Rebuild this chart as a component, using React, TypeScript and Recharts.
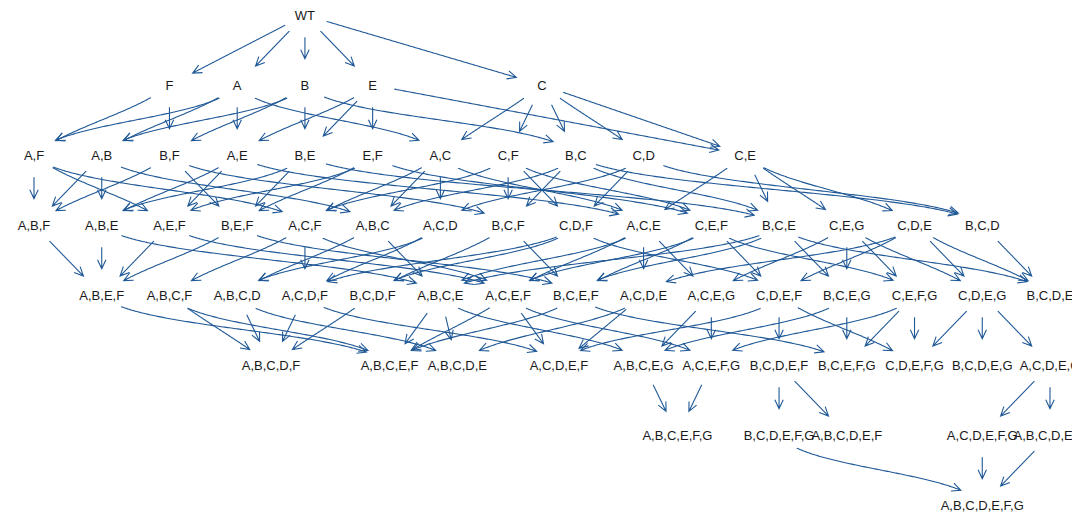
import React from 'react';
import { ComposedChart, XAxis, YAxis, Line, Scatter } from 'recharts';

const WIDTH = 1072;
const HEIGHT = 513;

// ---- nodes: labels and their column (x) per level (y) ----
const level0Names = ['WT'];
const level0Cols = [4];
const level1Names = ['F', 'A', 'B', 'E', 'C'];
const level1Cols = [2, 3, 4, 5, 7.5];
const level2Names = ['A,F', 'A,B', 'B,F', 'A,E', 'B,E', 'E,F', 'A,C', 'C,F', 'B,C', 'C,D', 'C,E'];
const level2Cols = [0, 1, 2, 3, 4, 5, 6, 7, 8, 9, 10.5];
const level3Names = ['A,B,F', 'A,B,E', 'A,E,F', 'B,E,F', 'A,C,F', 'A,B,C', 'A,C,D', 'B,C,F', 'C,D,F', 'A,C,E', 'C,E,F', 'B,C,E', 'C,E,G', 'C,D,E', 'B,C,D'];
const level3Cols = [0, 1, 2, 3, 4, 5, 6, 7, 8, 9, 10, 11, 12, 13, 14];
const level4Names = ['A,B,E,F', 'A,B,C,F', 'A,B,C,D', 'A,C,D,F', 'B,C,D,F', 'A,B,C,E', 'A,C,E,F', 'B,C,E,F', 'A,C,D,E', 'A,C,E,G', 'C,D,E,F', 'B,C,E,G', 'C,E,F,G', 'C,D,E,G', 'B,C,D,E'];
const level4Cols = [1, 2, 3, 4, 5, 6, 7, 8, 9, 10, 11, 12, 13, 14, 15];
const level5Names = ['A,B,C,D,F', 'A,B,C,E,F', 'A,B,C,D,E', 'A,C,D,E,F', 'A,B,C,E,G', 'A,C,E,F,G', 'B,C,D,E,F', 'B,C,E,F,G', 'C,D,E,F,G', 'B,C,D,E,G', 'A,C,D,E,G'];
const level5Cols = [3.5, 5.25, 6.25, 7.75, 9, 10, 11, 12, 13, 14, 15];
const level6Names = ['A,B,C,E,F,G', 'B,C,D,E,F,G', 'A,B,C,D,E,F', 'A,C,D,E,F,G', 'A,B,C,D,E,G'];
const level6Cols = [9.5, 11, 12, 14, 15];
const level7Names = ['A,B,C,D,E,F,G'];
const level7Cols = [14];

// ---- edges: [from, to] ----
const edges01: [string, string][] = [
  ['WT', 'F'], ['WT', 'A'], ['WT', 'B'], ['WT', 'E'], ['WT', 'C'],
];
const edges12: [string, string][] = [
  ['F', 'A,F'], ['F', 'B,F'],
  ['A', 'A,F'], ['A', 'A,B'], ['A', 'A,E'], ['A', 'A,C'],
  ['B', 'A,B'], ['B', 'B,F'], ['B', 'B,E'], ['B', 'B,C'],
  ['E', 'A,E'], ['E', 'B,E'], ['E', 'E,F'], ['E', 'C,E'],
  ['C', 'A,C'], ['C', 'C,F'], ['C', 'B,C'], ['C', 'C,D'], ['C', 'C,E'],
];
const edges23: [string, string][] = [
  ['A,F', 'A,B,F'], ['A,F', 'A,E,F'], ['A,F', 'A,C,F'],
  ['A,B', 'A,B,F'], ['A,B', 'A,B,E'], ['A,B', 'A,B,C'],
  ['B,F', 'A,B,F'], ['B,F', 'B,E,F'], ['B,F', 'B,C,F'],
  ['A,E', 'A,B,E'], ['A,E', 'A,E,F'], ['A,E', 'A,C,E'],
  ['B,E', 'A,B,E'], ['B,E', 'B,E,F'], ['B,E', 'B,C,E'],
  ['E,F', 'A,E,F'], ['E,F', 'B,E,F'], ['E,F', 'C,E,F'],
  ['A,C', 'A,C,F'], ['A,C', 'A,B,C'], ['A,C', 'A,C,D'], ['A,C', 'A,C,E'],
  ['C,F', 'A,C,F'], ['C,F', 'B,C,F'], ['C,F', 'C,D,F'], ['C,F', 'C,E,F'],
  ['B,C', 'A,B,C'], ['B,C', 'B,C,F'], ['B,C', 'B,C,E'], ['B,C', 'B,C,D'],
  ['C,D', 'A,C,D'], ['C,D', 'C,D,F'], ['C,D', 'B,C,D'],
  ['C,E', 'A,C,E'], ['C,E', 'B,C,E'], ['C,E', 'C,E,G'], ['C,E', 'C,D,E'],
];
const edges34: [string, string][] = [
  ['A,B,F', 'A,B,E,F'],
  ['A,B,E', 'A,B,E,F'], ['A,B,E', 'A,B,C,E'],
  ['A,E,F', 'A,B,E,F'], ['A,E,F', 'A,C,E,F'],
  ['B,E,F', 'A,B,E,F'], ['B,E,F', 'B,C,E,F'],
  ['A,C,F', 'A,B,C,F'], ['A,C,F', 'A,C,D,F'], ['A,C,F', 'A,C,E,F'],
  ['A,B,C', 'A,B,C,D'], ['A,B,C', 'A,B,C,E'],
  ['A,C,D', 'A,B,C,D'], ['A,C,D', 'A,C,D,F'],
  ['B,C,F', 'B,C,D,F'], ['B,C,F', 'B,C,E,F'],
  ['C,D,F', 'A,C,D,F'], ['C,D,F', 'B,C,D,F'], ['C,D,F', 'C,D,E,F'],
  ['A,C,E', 'A,B,C,E'], ['A,C,E', 'A,C,E,F'], ['A,C,E', 'A,C,D,E'], ['A,C,E', 'A,C,E,G'],
  ['C,E,F', 'A,C,E,F'], ['C,E,F', 'B,C,E,F'], ['C,E,F', 'C,D,E,F'], ['C,E,F', 'C,E,F,G'],
  ['B,C,E', 'A,B,C,E'], ['B,C,E', 'B,C,E,F'], ['B,C,E', 'B,C,E,G'], ['B,C,E', 'B,C,D,E'],
  ['C,E,G', 'A,C,E,G'], ['C,E,G', 'B,C,E,G'], ['C,E,G', 'C,E,F,G'], ['C,E,G', 'C,D,E,G'],
  ['C,D,E', 'A,C,D,E'], ['C,D,E', 'C,D,E,F'], ['C,D,E', 'C,D,E,G'], ['C,D,E', 'B,C,D,E'],
  ['B,C,D', 'B,C,D,E'],
];
const edges45: [string, string][] = [
  ['A,B,C,F', 'A,B,C,D,F'], ['A,B,C,D', 'A,B,C,D,F'], ['A,C,D,F', 'A,B,C,D,F'], ['B,C,D,F', 'A,B,C,D,F'],
  ['A,B,E,F', 'A,B,C,E,F'], ['A,B,C,F', 'A,B,C,E,F'], ['A,B,C,E', 'A,B,C,E,F'], ['A,C,E,F', 'A,B,C,E,F'], ['B,C,E,F', 'A,B,C,E,F'],
  ['A,B,C,D', 'A,B,C,D,E'], ['A,B,C,E', 'A,B,C,D,E'], ['A,C,D,E', 'A,B,C,D,E'],
  ['A,C,D,F', 'A,C,D,E,F'], ['A,C,E,F', 'A,C,D,E,F'], ['A,C,D,E', 'A,C,D,E,F'], ['C,D,E,F', 'A,C,D,E,F'],
  ['A,B,C,E', 'A,B,C,E,G'], ['A,C,E,G', 'A,B,C,E,G'], ['B,C,E,G', 'A,B,C,E,G'],
  ['A,C,E,F', 'A,C,E,F,G'], ['A,C,E,G', 'A,C,E,F,G'], ['C,E,F,G', 'A,C,E,F,G'],
  ['C,D,E,F', 'B,C,D,E,F'],
  ['B,C,E,F', 'B,C,E,F,G'], ['B,C,E,G', 'B,C,E,F,G'], ['C,E,F,G', 'B,C,E,F,G'],
  ['C,D,E,F', 'C,D,E,F,G'], ['C,E,F,G', 'C,D,E,F,G'], ['C,D,E,G', 'C,D,E,F,G'],
  ['C,D,E,G', 'B,C,D,E,G'],
  ['C,D,E,G', 'A,C,D,E,G'],
];
const edges56: [string, string][] = [
  ['A,B,C,E,G', 'A,B,C,E,F,G'], ['A,C,E,F,G', 'A,B,C,E,F,G'],
  ['B,C,D,E,F', 'B,C,D,E,F,G'], ['B,C,D,E,F', 'A,B,C,D,E,F'],
  ['A,C,D,E,G', 'A,C,D,E,F,G'], ['A,C,D,E,G', 'A,B,C,D,E,G'],
];
const edges67: [string, string][] = [
  ['A,C,D,E,F,G', 'A,B,C,D,E,F,G'], ['A,B,C,D,E,G', 'A,B,C,D,E,F,G'], ['B,C,D,E,F,G', 'A,B,C,D,E,F,G'],
];

// ---- build node table ----
type NodeDatum = { name: string; x: number; y: number };
const levelNames = [level0Names, level1Names, level2Names, level3Names, level4Names, level5Names, level6Names, level7Names];
const levelCols = [level0Cols, level1Cols, level2Cols, level3Cols, level4Cols, level5Cols, level6Cols, level7Cols];
const nodes: NodeDatum[] = [];
levelNames.forEach((names, lv) => {
  names.forEach((n, i) => nodes.push({ name: n, x: levelCols[lv][i], y: lv }));
});
const nodeByName: Record<string, NodeDatum> = {};
nodes.forEach((n) => { nodeByName[n.name] = n; });

// axis domains (column units / level units)
const X_MIN = -0.502;
const X_MAX = 15.325;
const Y_MIN = -0.2143;
const Y_MAX = 7.114;

const EDGE_COLOR = '#1f5896';
const R_START = 22;
const R_END = 26;

const bez = (p0: number[], p1: number[], p2: number[], p3: number[], t: number) => {
  const u = 1 - t;
  const a = u * u * u, b = 3 * u * u * t, c = 3 * u * t * t, d = t * t * t;
  return [a * p0[0] + b * p1[0] + c * p2[0] + d * p3[0], a * p0[1] + b * p1[1] + c * p2[1] + d * p3[1]];
};
const dist = (p: number[], q: number[]) => Math.hypot(p[0] - q[0], p[1] - q[1]);

// custom d3 curve: bezier between node centres, clipped at node radius, with open arrowhead
const makeEdgeCurve = (bend: number) => (context: any) => {
  const pts: number[][] = [];
  return {
    areaStart() {},
    areaEnd() {},
    lineStart() { pts.length = 0; },
    point(x: number, y: number) { pts.push([+x, +y]); },
    lineEnd() {
      if (pts.length < 2) return;
      const s0 = pts[0];
      const s3 = pts[pts.length - 1];
      const dx = s3[0] - s0[0];
      const dy = s3[1] - s0[1];
      const k = bend * Math.max(0, Math.min(1, (Math.abs(dx) - 90) / 120));
      const a = 1 / 3 - (1 / 3 - 0.1) * k;
      const b = 1 / 3 + (0.5 - 1 / 3) * k;
      const p1 = [s0[0] + a * dx, s0[1] + b * dy];
      const p2 = [s3[0] - a * dx, s3[1] - b * dy];
      const N = 240;
      const sm: number[][] = [];
      for (let i = 0; i <= N; i++) sm.push(bez(s0, p1, p2, s3, i / N));
      let i0 = 0;
      while (i0 < N && dist(sm[i0], s0) < R_START) i0++;
      let i1 = N;
      while (i1 > i0 && dist(sm[i1], s3) < R_END) i1--;
      context.moveTo(sm[i0][0], sm[i0][1]);
      for (let i = i0 + 1; i <= i1; i++) context.lineTo(sm[i][0], sm[i][1]);
      const tip = sm[i1];
      let j = i1;
      while (j > i0 && dist(sm[j], tip) < 6) j--;
      let ux = tip[0] - sm[j][0];
      let uy = tip[1] - sm[j][1];
      const len = Math.hypot(ux, uy) || 1;
      ux /= len; uy /= len;
      const L = 9, W = 4.2;
      const bx = tip[0] - L * ux, by = tip[1] - L * uy;
      context.moveTo(bx - W * uy, by + W * ux);
      context.lineTo(tip[0], tip[1]);
      context.lineTo(bx + W * uy, by - W * ux);
    },
  };
};

const allEdges = [...edges01, ...edges12, ...edges23, ...edges34, ...edges45, ...edges56, ...edges67];
const edgeSeries = allEdges.map(([from, to]) => {
  const s = nodeByName[from];
  const t = nodeByName[to];
  const straight = s.y === 0 || to === 'C,E';
  return {
    id: `${from}>${to}`,
    data: [{ x: s.x, y: s.y }, { x: t.x, y: t.y }],
    curve: makeEdgeCurve(straight ? 0 : 1),
  };
});

const NodeLabel = (props: any) => {
  const { cx, cy, payload } = props;
  return (
    <text
      x={cx}
      y={cy + 4.6}
      textAnchor="middle"
      fontFamily="'Liberation Sans', Arial, Helvetica, sans-serif"
      fontSize={13}
      fill="#1a1a1a"
    >
      {payload.name}
    </text>
  );
};

export default function App() {
  return (
    <div style={{ position: 'absolute', left: 0, top: 0, width: WIDTH, height: HEIGHT, overflow: 'hidden', background: '#fff' }}>
      <ComposedChart width={WIDTH} height={HEIGHT} margin={{ top: 0, right: 0, bottom: 0, left: 0 }}>
        <XAxis type="number" dataKey="x" domain={[X_MIN, X_MAX]} allowDataOverflow hide />
        <YAxis type="number" dataKey="y" domain={[Y_MIN, Y_MAX]} allowDataOverflow reversed hide />
        {edgeSeries.map((e) => (
          <Line
            key={e.id}
            data={e.data}
            dataKey="y"
            type={e.curve as any}
            stroke={EDGE_COLOR}
            strokeWidth={1.1}
            dot={false}
            activeDot={false}
            isAnimationActive={false}
            legendType="none"
          />
        ))}
        <Scatter data={nodes} dataKey="y" shape={NodeLabel} isAnimationActive={false} legendType="none" />
      </ComposedChart>
    </div>
  );
}
